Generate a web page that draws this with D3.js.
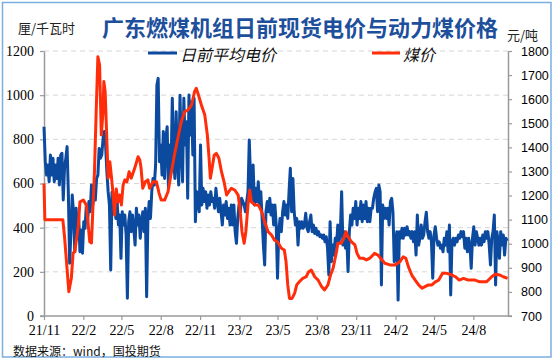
<!DOCTYPE html>
<html><head><meta charset="utf-8">
<script src="https://cdn.jsdelivr.net/npm/d3@7"></script>
<style>
html,body{margin:0;padding:0;background:#fff;}
svg{display:block;}
</style></head>
<body>
<svg id="chart" width="554" height="359"></svg>
<script>
// ---------------- data ----------------
const titleText = "广东燃煤机组日前现货电价与动力煤价格";
const leftUnit = "厘/千瓦时";
const rightUnit = "元/吨";
const sourceText = "数据来源：wind，国投期货";
const seriesNames = ["日前平均电价", "煤价"];

const leftTicks = [0, 200, 400, 600, 800, 1000, 1200];
const rightTicks = [700, 800, 900, 1000, 1100, 1200, 1300, 1400, 1500, 1600, 1700, 1800];
const xTickDates = ["2021-11-01","2022-02-01","2022-05-01","2022-08-01","2022-11-01","2023-02-01",
  "2023-05-01","2023-08-01","2023-11-01","2024-02-01","2024-05-01","2024-08-01"];
const xDomain = ["2021-11-01", "2024-10-21"];

// day-ahead average power price (厘/千瓦时), one reading every 3 days from 2021-11-01
const powerStart = "2021-11-01";
const powerStepDays = 3;
const powerValues = [
857,699,638,684,608,729,638,714,608,684,623,714,593,729,737,525,669,714,767,548,
239,382,548,472,291,488,412,457,291,389,284,427,397,503,427,518,472,593,503,548,
525,623,638,759,714,729,800,835,774,653,563,503,208,560,488,548,442,518,412,457,
261,472,412,457,367,80,427,472,382,457,397,321,488,412,457,352,427,472,382,488,
87,442,518,442,563,623,593,684,1046,1076,699,774,638,835,623,805,857,578,774,653,
986,729,623,925,699,593,1000,759,608,986,774,880,533,1001,820,970,729,986,427,563,
518,472,774,503,578,518,563,488,548,503,563,518,533,488,578,518,472,533,472,412,
503,457,518,442,488,412,503,412,503,382,329,442,503,472,533,518,503,472,518,563,
797,623,518,684,503,578,518,608,503,563,442,321,231,472,518,472,533,457,503,412,
503,412,171,382,442,382,472,518,457,503,442,563,669,472,623,472,412,442,321,427,
397,427,397,412,465,397,382,427,457,382,412,374,397,367,382,359,367,352,367,336,
359,307,186,427,246,321,276,352,321,412,336,382,563,321,382,307,352,201,382,457,
412,488,442,518,412,488,442,518,427,503,442,518,427,488,427,488,488,533,560,578,
472,593,563,140,503,442,488,442,488,412,518,533,470,246,321,382,72,382,352,397,
352,397,367,404,367,382,352,382,336,382,276,457,321,352,412,352,367,427,470,382,
352,382,336,171,367,404,352,321,336,307,321,291,352,321,382,291,412,95,336,352,
321,352,336,367,352,382,359,382,307,352,291,352,321,216,352,404,321,382,352,321,
352,321,367,336,382,352,382,321,231,352,382,457,140,382,336,261,382,321,367,276,
352,340
];

// thermal coal price (元/吨)
const coalDates = [
"2021-11-01","2021-11-03","2021-12-15","2021-12-19","2021-12-23","2021-12-29","2022-01-04","2022-01-08",
"2022-01-12","2022-01-20","2022-01-24","2022-02-01","2022-02-08","2022-02-16","2022-02-20","2022-02-23",
"2022-02-27","2022-03-03","2022-03-07","2022-03-11","2022-03-15","2022-03-19","2022-03-21","2022-03-24",
"2022-03-27","2022-03-31","2022-04-04","2022-04-08","2022-04-11","2022-04-15","2022-04-19","2022-04-23",
"2022-04-27","2022-05-01","2022-05-05","2022-05-09","2022-05-14","2022-05-19","2022-05-24","2022-06-01",
"2022-06-09","2022-06-13","2022-06-16","2022-06-20","2022-06-26","2022-07-02","2022-07-06","2022-07-14",
"2022-07-22","2022-07-28","2022-08-02","2022-08-10","2022-08-18","2022-08-26","2022-09-02","2022-09-10",
"2022-09-18","2022-09-26","2022-10-04","2022-10-12","2022-10-19","2022-10-23","2022-10-27","2022-11-04",
"2022-11-12","2022-11-18","2022-11-22","2022-11-25","2022-11-29","2022-12-04","2022-12-09","2022-12-15",
"2022-12-21","2022-12-27","2023-01-02","2023-01-07","2023-01-13","2023-01-21","2023-01-29","2023-02-02",
"2023-02-07","2023-02-12","2023-02-16","2023-02-21","2023-02-25","2023-03-01","2023-03-09","2023-03-17",
"2023-03-25","2023-04-01","2023-04-09","2023-04-17","2023-04-24","2023-05-01","2023-05-10","2023-05-17",
"2023-05-21","2023-05-25","2023-05-29","2023-06-04","2023-06-10","2023-06-15","2023-06-21","2023-06-29",
"2023-07-07","2023-07-13","2023-07-19","2023-07-27","2023-08-04","2023-08-12","2023-08-19","2023-08-27",
"2023-09-02","2023-09-08","2023-09-16","2023-09-19","2023-09-27","2023-10-03","2023-10-08","2023-10-13",
"2023-10-21","2023-10-29","2023-11-03","2023-11-09","2023-11-17","2023-11-25","2023-12-03","2023-12-14",
"2023-12-22","2023-12-31","2024-01-07","2024-01-19","2024-01-31","2024-02-11","2024-02-19","2024-02-25",
"2024-03-02","2024-03-10","2024-03-18","2024-03-26","2024-04-03","2024-04-10","2024-04-18","2024-04-26",
"2024-05-04","2024-05-12","2024-05-21","2024-05-31","2024-06-12","2024-06-20","2024-06-29","2024-07-09",
"2024-07-20","2024-08-05","2024-08-16","2024-09-01","2024-09-13","2024-09-21","2024-10-02","2024-10-10",
"2024-10-20"
];
const coalValues = [
1250,1100,1100,1029,940,801,858,961,
967,1071,1174,1181,1161,1008,1003,1133,
1299,1548,1776,1742,1451,1548,1673,1631,
1479,1272,1340,1272,1216,1119,1227,1174,
1202,1161,1244,1265,1257,1299,1272,1313,
1361,1348,1313,1230,1257,1265,1230,1257,
1257,1210,1181,1181,1216,1299,1368,1438,
1507,1548,1555,1576,1631,1645,1624,1576,
1534,1451,1355,1272,1313,1368,1375,1355,
1299,1257,1202,1216,1230,1223,1202,1147,
1050,1002,1050,1161,1223,1174,1161,1161,
1133,1091,1050,1036,1015,1008,981,974,
925,829,773,773,794,829,842,856,
863,884,891,863,849,822,808,829,
870,898,967,1002,1002,1022,1050,1029,
1008,995,960,940,940,933,940,960,
953,933,919,912,912,925,946,940,
905,870,849,829,815,822,829,829,
842,849,877,877,870,863,849,856,
849,849,842,842,863,873,870,863,
856
];

// ---------------- drawing ----------------
const parse = d3.utcParse("%Y-%m-%d");
const svg = d3.select("#chart");
const plot = {left: 44, right: 508, top: 51, bottom: 316};

const x = d3.scaleUtc().domain(xDomain.map(parse)).range([plot.left, plot.right]);
const yL = d3.scaleLinear().domain([0, 1200]).range([plot.bottom, plot.top]);
const yR = d3.scaleLinear().domain([700, 1800]).range([plot.bottom, plot.top]);

const startDate = parse(powerStart);
const power = powerValues.map((v, i) => ({d: d3.utcDay.offset(startDate, i * powerStepDays), v}));
const coal = coalDates.map((s, i) => ({d: parse(s), v: coalValues[i]}));

// frame
svg.append("rect").attr("x", 2.5).attr("y", 2.5).attr("width", 548.5).attr("height", 354.5)
  .attr("fill", "#fff").attr("stroke", "#7aaee0").attr("stroke-width", 1.5);

// grid
svg.append("g").selectAll("line").data(leftTicks.filter(t => t > 0)).join("line")
  .attr("x1", plot.left).attr("x2", plot.right)
  .attr("y1", d => yL(d)).attr("y2", d => yL(d))
  .attr("stroke", "#d6d6d6").attr("stroke-width", 1).attr("stroke-dasharray", "5,4");

const axisColor = "#9a9a9a";
function styleAxis(g) {
  g.select(".domain").attr("stroke", axisColor).attr("stroke-width", 1.5);
  g.selectAll(".tick line").attr("stroke", axisColor).attr("stroke-width", 1.2);
  g.selectAll(".tick text").attr("fill", "#000");
}

// left axis
const gL = svg.append("g").attr("transform", `translate(${plot.left},0)`)
  .call(d3.axisLeft(yL).tickValues(leftTicks).tickFormat(d3.format("d")).tickSize(4).tickSizeOuter(0).tickPadding(6));
styleAxis(gL);
gL.selectAll(".tick text").attr("font-family", "'Liberation Serif','Times New Roman',serif").attr("font-size", 14);

// right axis
const gR = svg.append("g").attr("transform", `translate(${plot.right},0)`)
  .call(d3.axisRight(yR).tickValues(rightTicks).tickFormat(d3.format("d")).tickSize(4).tickSizeOuter(0).tickPadding(9));
styleAxis(gR);
gR.selectAll(".tick text").attr("font-family", "'Liberation Sans',Arial,sans-serif").attr("font-size", 12.5);

// bottom axis
const gX = svg.append("g").attr("transform", `translate(0,${plot.bottom})`)
  .call(d3.axisBottom(x).tickValues(xTickDates.map(parse)).tickFormat(d3.utcFormat("%y/%-m"))
    .tickSize(4).tickSizeOuter(0).tickPadding(5));
styleAxis(gX);
gX.select(".domain").attr("d", `M${plot.left - 4},0H${plot.right + 4}`);
gX.selectAll(".tick text").attr("font-family", "'Liberation Serif','Times New Roman',serif").attr("font-size", 14);

// lines
const linePower = d3.line().x(d => x(d.d)).y(d => yL(d.v));
const lineCoal = d3.line().x(d => x(d.d)).y(d => yR(d.v));
const blue = "#0b4a9f", red = "#ff2d0a";

svg.append("path").datum(power).attr("d", linePower)
  .attr("fill", "none").attr("stroke", blue).attr("stroke-width", 3).attr("stroke-linejoin", "round");
svg.append("path").datum(coal).attr("d", lineCoal)
  .attr("fill", "none").attr("stroke", red).attr("stroke-width", 3).attr("stroke-linejoin", "round");

// title and units
svg.append("text").attr("x", 300).attr("y", 26).attr("text-anchor", "middle").attr("dominant-baseline", "central")
  .attr("font-family", "'Noto Sans CJK SC',sans-serif").attr("font-weight", "bold").attr("font-size", 22)
  .attr("fill", "#1d4f9c").text(titleText);
svg.append("text").attr("x", 18).attr("y", 27).attr("dominant-baseline", "central")
  .attr("font-family", "'Noto Sans CJK SC',sans-serif").attr("font-size", 13).attr("fill", "#222").text(leftUnit);
svg.append("text").attr("x", 507).attr("y", 34).attr("dominant-baseline", "central")
  .attr("font-family", "'Noto Sans CJK SC',sans-serif").attr("font-size", 13).attr("fill", "#222").text(rightUnit);

// legend
const legend = [
  {name: seriesNames[0], color: blue, x1: 148, x2: 177},
  {name: seriesNames[1], color: red, x1: 372, x2: 400}
];
const lg = svg.append("g");
legend.forEach(l => {
  lg.append("line").attr("x1", l.x1).attr("x2", l.x2).attr("y1", 53).attr("y2", 53)
    .attr("stroke", l.color).attr("stroke-width", 3);
  lg.append("text").attr("x", l.x2 + 3).attr("y", 53.5).attr("dominant-baseline", "central")
    .attr("font-family", "'Noto Sans CJK SC',sans-serif").attr("font-style", "italic").attr("font-size", 16)
    .attr("fill", "#111").text(l.name);
});

// source
svg.append("text").attr("x", 13).attr("y", 350).attr("dominant-baseline", "central")
  .attr("font-family", "'Noto Sans CJK SC',sans-serif").attr("font-size", 12).attr("fill", "#111").text(sourceText);
</script>
</body></html>
